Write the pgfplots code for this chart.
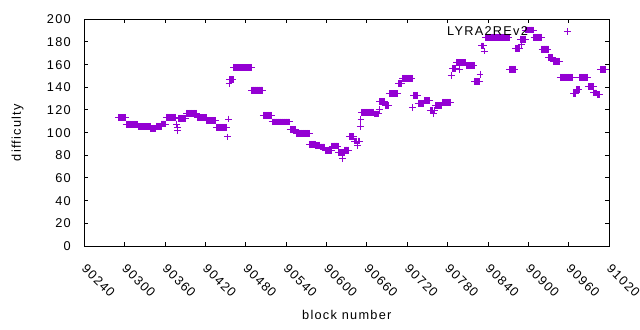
\documentclass[border=0pt]{standalone}
\usepackage{fontspec}
\setmainfont{Liberation Sans}[LetterSpace=10]
\usepackage{pgfplots}
\pgfplotsset{compat=1.18}
\definecolor{gpviolet}{RGB}{148,0,211}
\begin{document}
\begin{tikzpicture}[font=\fontsize{12.8}{15}\selectfont]
\begin{axis}[
 scale only axis, width=525bp, height=226.7bp,
 xmin=90240, xmax=91020, ymin=0, ymax=200,
 xtick={90240,90300,90360,90420,90480,90540,90600,90660,90720,90780,90840,90900,90960,91020},
 xticklabels={90240,90300,90360,90420,90480,90540,90600,90660,90720,90780,90840,90900,90960,91020},
 ytick distance=20,
 scaled ticks=false,
 /pgf/number format/assume math mode=true,
 /pgf/number format/1000 sep={},
 axis line style={line width=1bp},
 tick style={black, line width=1bp},
 major tick length=4bp,
 xticklabel style={xshift=3bp, yshift=-12bp, rotate=-45, anchor=north west},
 yticklabel style={xshift=-10bp},
 xlabel={block number}, ylabel={difficulty},
 every axis x label/.style={at={(axis description cs:0.5,0)}, anchor=center, yshift=-69bp},
 every axis y label/.style={at={(axis description cs:0,0.5)}, xshift=-66.8bp, rotate=90, anchor=center},
 legend plot pos=right,
 legend style={draw=none, fill=none, at={(axis cs:90963,189)}, anchor=east, inner sep=0pt, nodes={inner sep=0pt}, column sep=36bp},
 legend image code/.code={\draw[#1] plot coordinates {(0bp,0bp)};},
]
\addplot[only marks, mark=+, gpviolet, mark size=3.4bp, mark options={line width=1bp}] coordinates {
(90291,113.4)(90292,113.4)(90293,113.4)(90294,113.4)(90295,113.4)(90296,113.4)(90297,113.4)(90298,113.4)(90299,113.4)(90300,113.4)(90301,113.4)
(90302,107.4)(90303,107.4)(90304,107.4)(90305,107.4)(90306,107.4)(90307,107.4)(90308,107.4)(90309,107.4)(90310,107.4)(90311,107.4)(90312,107.4)(90313,107.4)(90314,107.4)(90315,107.4)(90316,107.4)(90317,107.4)(90318,107.4)(90319,107.4)
(90320,105.4)(90321,105.4)(90322,105.4)(90323,105.4)(90324,105.4)(90325,105.4)(90326,105.4)(90327,105.4)(90328,105.4)(90329,105.4)(90330,105.4)(90331,105.4)(90332,105.4)(90333,105.4)(90334,105.4)(90335,105.4)(90336,105.4)(90337,105.4)(90338,105.4)
(90339,103.6)(90340,103.6)(90341,103.6)(90342,103.6)(90343,103.6)(90344,103.6)(90345,103.6)(90346,103.6)
(90347,105.6)(90348,105.6)(90349,105.6)(90350,105.6)(90351,105.6)(90352,105.6)(90353,105.6)(90354,105.6)
(90355,107.6)(90356,107.6)(90357,107.6)(90358,107.6)(90359,107.6)(90360,107.6)(90361,107.6)
(90362,113.5)(90363,113.5)(90364,113.5)(90365,113.5)(90366,113.5)(90367,113.5)(90368,113.5)(90369,113.5)(90370,113.5)(90371,113.5)(90372,113.5)(90373,113.5)(90374,113.5)(90375,113.5)(90376,113.5)
(90377,107.6)(90378,104.7)(90379,102.2)
(90380,112.6)(90381,112.6)(90382,112.6)(90383,112.6)(90384,112.6)(90385,112.6)(90386,112.6)(90387,112.6)(90388,112.6)(90389,112.6)(90390,112.6)(90391,112.6)
(90392,117)(90393,117)(90394,117)(90395,117)(90396,117)(90397,117)(90398,117)(90399,117)(90400,117)(90401,117)(90402,117)(90403,117)(90404,117)(90405,117)(90406,117)(90407,117)
(90408,113.3)(90409,113.3)(90410,113.3)(90411,113.3)(90412,113.3)(90413,113.3)(90414,113.3)(90415,113.3)(90416,113.3)(90417,113.3)(90418,113.3)(90419,113.3)(90420,113.3)(90421,113.3)
(90422,110.5)(90423,110.5)(90424,110.5)(90425,110.5)(90426,110.5)(90427,110.5)(90428,110.5)(90429,110.5)(90430,110.5)(90431,110.5)(90432,110.5)(90433,110.5)(90434,110.5)(90435,110.5)
(90436,104.7)(90437,104.7)(90438,104.7)(90439,104.7)(90440,104.7)(90441,104.7)(90442,104.7)(90443,104.7)(90444,104.7)(90445,104.7)(90446,104.7)(90447,104.7)(90448,104.7)(90449,104.7)(90450,104.7)(90451,104.7)(90452,104.7)
(90453,96.2)(90454,112)(90455,143.3)
(90456,146.7)(90457,146.7)(90458,146.7)(90459,146.7)(90460,146.7)(90461,146.7)
(90462,157.3)(90463,157.3)(90464,157.3)(90465,157.3)(90466,157.3)(90467,157.3)(90468,157.3)(90469,157.3)(90470,157.3)(90471,157.3)(90472,157.3)(90473,157.3)(90474,157.3)(90475,157.3)(90476,157.3)(90477,157.3)(90478,157.3)(90479,157.3)(90480,157.3)(90481,157.3)(90482,157.3)(90483,157.3)(90484,157.3)(90485,157.3)(90486,157.3)(90487,157.3)(90488,157.3)
(90489,137.5)(90490,137.5)(90491,137.5)(90492,137.5)(90493,137.5)(90494,137.5)(90495,137.5)(90496,137.5)(90497,137.5)(90498,137.5)(90499,137.5)(90500,137.5)(90501,137.5)(90502,137.5)(90503,137.5)(90504,137.5)(90505,137.5)
(90506,115.3)(90507,115.3)(90508,115.3)(90509,115.3)(90510,115.3)(90511,115.3)(90512,115.3)(90513,115.3)(90514,115.3)(90515,115.3)(90516,115.3)(90517,115.3)(90518,115.3)
(90519,109.4)(90520,109.4)(90521,109.4)(90522,109.4)(90523,109.4)(90524,109.4)(90525,109.4)(90526,109.4)(90527,109.4)(90528,109.4)(90529,109.4)(90530,109.4)(90531,109.4)(90532,109.4)(90533,109.4)(90534,109.4)(90535,109.4)(90536,109.4)(90537,109.4)(90538,109.4)(90539,109.4)(90540,109.4)(90541,109.4)(90542,109.4)(90543,109.4)(90544,109.4)(90545,109.4)
(90546,102.6)(90547,102.6)(90548,102.6)(90549,102.6)(90550,102.6)(90551,102.6)(90552,102.6)(90553,102.6)(90554,102.6)
(90555,99.4)(90556,99.4)(90557,99.4)(90558,99.4)(90559,99.4)(90560,99.4)(90561,99.4)(90562,99.4)(90563,99.4)(90564,99.4)(90565,99.4)(90566,99.4)(90567,99.4)(90568,99.4)(90569,99.4)(90570,99.4)(90571,99.4)(90572,99.4)(90573,99.4)(90574,99.4)
(90575,89.7)(90576,89.7)(90577,89.7)(90578,89.7)(90579,89.7)(90580,89.7)(90581,89.7)(90582,89.7)(90583,89.7)
(90584,88.8)(90585,88.8)(90586,88.8)(90587,88.8)(90588,88.8)(90589,88.8)(90590,88.8)
(90591,87.3)(90592,87.3)(90593,87.3)(90594,87.3)(90595,87.3)(90596,87.3)(90597,87.3)
(90598,84.2)(90599,84.2)(90600,84.2)(90601,84.2)(90602,84.2)(90603,84.2)(90604,84.2)(90605,84.2)(90606,84.2)(90607,84.2)
(90608,88.2)(90609,88.2)(90610,88.2)(90611,88.2)(90612,88.2)(90613,88.2)(90614,88.2)(90615,88.2)(90616,88.2)(90617,88.2)
(90618,82.3)(90619,82.3)(90620,82.3)(90621,82.3)(90622,82.3)(90623,82.3)(90624,77.4)(90625,82.3)(90626,82.3)
(90627,84.6)(90628,84.6)(90629,84.6)(90630,84.6)(90631,84.6)(90632,84.6)(90633,84.6)
(90634,96.5)(90635,96.5)(90636,96.5)(90637,96.5)(90638,96.5)(90639,96.5)(90640,96.5)
(90641,92.6)(90642,92.6)(90643,92.6)(90644,92.6)(90645,92.6)(90646,89)(90647,92.6)(90648,92.6)(90649,92.6)
(90650,105.3)(90651,111.5)
(90652,117.9)(90653,117.9)(90654,117.9)(90655,117.9)(90656,117.9)(90657,117.9)(90658,117.9)(90659,117.9)(90660,117.9)(90661,117.9)(90662,117.9)(90663,117.9)(90664,117.9)(90665,117.9)(90666,117.9)(90667,117.9)(90668,117.9)(90669,117.9)(90670,117.9)
(90671,116.5)(90672,116.5)(90673,116.5)(90674,116.5)(90675,116.5)(90676,116.5)(90677,116.5)
(90678,120.5)
(90679,127.3)(90680,127.3)(90681,127.3)(90682,127.3)(90683,127.3)(90684,127.3)(90685,127.3)(90686,127.3)
(90687,124.2)(90688,124.2)(90689,124.2)(90690,124.2)(90691,124.2)(90692,124.2)
(90693,134.6)(90694,134.6)(90695,134.6)(90696,134.6)(90697,134.6)(90698,134.6)(90699,134.6)(90700,134.6)(90701,134.6)(90702,134.6)(90703,134.6)(90704,134.6)(90705,134.6)(90706,134.6)
(90707,143.5)(90708,143.5)(90709,143.5)(90710,143.5)(90711,143.5)(90712,143.5)
(90713,147.9)(90714,147.9)(90715,147.9)(90716,147.9)(90717,147.9)(90718,147.9)(90719,147.9)(90720,147.9)(90721,147.9)(90722,147.9)(90723,147.9)(90724,147.9)(90725,147.9)(90726,147.9)(90727,147.9)
(90728,122.2)(90729,132.6)(90730,132.6)(90731,132.6)(90732,132.6)(90733,132.6)(90734,132.6)(90735,132.6)
(90736,125.8)(90737,125.8)(90738,125.8)(90739,125.8)(90740,125.8)(90741,125.8)(90742,125.8)(90743,125.8)(90744,125.8)
(90745,128.4)(90746,128.4)(90747,128.4)(90748,128.4)(90749,128.4)(90750,128.4)(90751,128.4)(90752,128.4)(90753,128.4)
(90754,119.6)(90755,119.6)(90756,119.6)(90757,119.6)(90758,119.6)(90759,117)(90760,119.6)(90761,119.6)
(90762,124)(90763,124)(90764,124)(90765,124)(90766,124)(90767,124)(90768,124)(90769,124)(90770,124)(90771,124)
(90772,126.9)(90773,126.9)(90774,126.9)(90775,126.9)(90776,126.9)(90777,126.9)(90778,126.9)(90779,126.9)(90780,126.9)(90781,126.9)(90782,126.9)(90783,126.9)(90784,126.9)
(90785,150.2)(90786,150)
(90787,156.4)(90788,156.4)(90789,156.4)(90790,156.4)(90791,156.4)(90792,156.4)
(90793,161.7)(90794,161.7)(90795,161.7)(90796,161.7)(90797,155.9)(90798,161.7)(90799,161.7)(90800,161.7)(90801,161.7)(90802,161.7)(90803,161.7)(90804,161.7)(90805,161.7)(90806,161.7)(90807,161.7)
(90808,158.9)(90809,158.9)(90810,158.9)(90811,158.9)(90812,158.9)(90813,158.9)(90814,158.9)(90815,158.9)(90816,158.9)(90817,158.9)(90818,158.9)(90819,158.9)
(90820,145.2)(90821,145.2)(90822,145.2)(90823,145.2)(90824,145.2)(90825,145.2)(90826,145.2)(90827,145.2)
(90828,151.5)
(90830,176.5)(90831,176.5)(90832,176.5)(90833,176.5)(90834,172)
(90836,184.2)(90837,184.2)(90838,184.2)(90839,184.2)(90840,184.2)(90841,184.2)(90842,184.2)(90843,184.2)(90844,184.2)(90845,184.2)(90846,184.2)(90847,184.2)(90848,184.2)(90849,184.2)(90850,184.2)(90851,184.2)(90852,184.2)(90853,184.2)(90854,184.2)(90855,184.2)(90856,184.2)(90857,184.2)(90858,184.2)(90859,184.2)(90860,184.2)(90861,184.2)(90862,184.2)(90863,184.2)(90864,184.2)(90865,184.2)(90866,184.2)(90867,184.2)(90868,184.2)(90869,184.2)(90870,184.2)(90871,184.2)
(90872,156)(90873,156)(90874,156)(90875,156)(90876,156)(90877,156)(90878,156)(90879,156)(90880,156)
(90881,174.5)(90882,174.5)(90883,174.5)(90884,174.5)(90885,174.5)(90886,174.5)(90887,174.5)
(90888,182.5)(90889,182.5)(90890,178)(90891,182.5)(90892,182.5)(90893,182.5)(90894,182.5)(90895,182.5)
(90896,190.5)(90897,190.5)(90898,190.5)(90899,190.5)(90900,190.5)(90901,190.5)(90902,190.5)(90903,190.5)(90904,190.5)(90905,190.5)(90906,190.5)(90907,190.5)
(90908,184.2)(90909,184.2)(90910,184.2)(90911,184.2)(90912,184.2)(90913,184.2)(90914,184.2)(90915,184.2)(90916,184.2)(90917,184.2)(90918,184.2)(90919,184.2)
(90920,173.7)(90921,173.7)(90922,173.7)(90923,173.7)(90924,173.7)(90925,173.7)(90926,173.7)(90927,173.7)(90928,173.7)(90929,173.7)
(90930,166.3)(90931,166.3)(90932,166.3)(90933,166.3)(90934,166.3)(90935,166.3)(90936,166.3)
(90937,163)(90938,163)(90939,163)(90940,163)(90941,163)(90942,163)(90943,163)(90944,163)(90945,163)(90946,163)
(90947,148.8)(90948,148.8)(90949,148.8)(90950,148.8)(90951,148.8)(90952,148.8)(90953,148.8)(90954,148.8)(90955,148.8)(90956,148.8)(90957,148.8)(90958,148.8)(90959,148.8)(90960,148.8)(90961,148.8)(90962,148.8)(90963,148.8)(90964,148.8)(90965,148.8)(90966,148.8)
(90967,134.5)(90968,134.5)(90969,134.5)(90970,134.5)(90971,138)(90972,138)(90973,138)(90974,138)(90975,138)
(90976,148.8)(90977,148.8)(90978,148.8)(90979,148.8)(90980,148.8)(90981,148.8)(90982,148.8)(90983,148.8)(90984,148.8)(90985,148.8)(90986,148.8)(90987,148.8)(90988,148.8)
(90989,140.7)(90990,140.7)(90991,140.7)(90992,140.7)(90993,140.7)(90994,140.7)(90995,140.7)(90996,140.7)
(90997,135)(90998,135)(90999,135)(91000,135)(91001,135)
(91002,133.4)(91003,133.4)(91004,133.4)(91005,133.4)(91006,133.4)
(91007,155.8)(91008,155.8)(91009,155.8)(91010,155.8)(91011,155.8)(91012,155.8)(91013,155.8)(91014,155.8)
};
\addlegendentry{LYRA2REv2}
\end{axis}
\pgfresetboundingbox
\path[use as bounding box] (-84.3bp,-84bp) rectangle (555.7bp,246bp);
\end{tikzpicture}
\end{document}
